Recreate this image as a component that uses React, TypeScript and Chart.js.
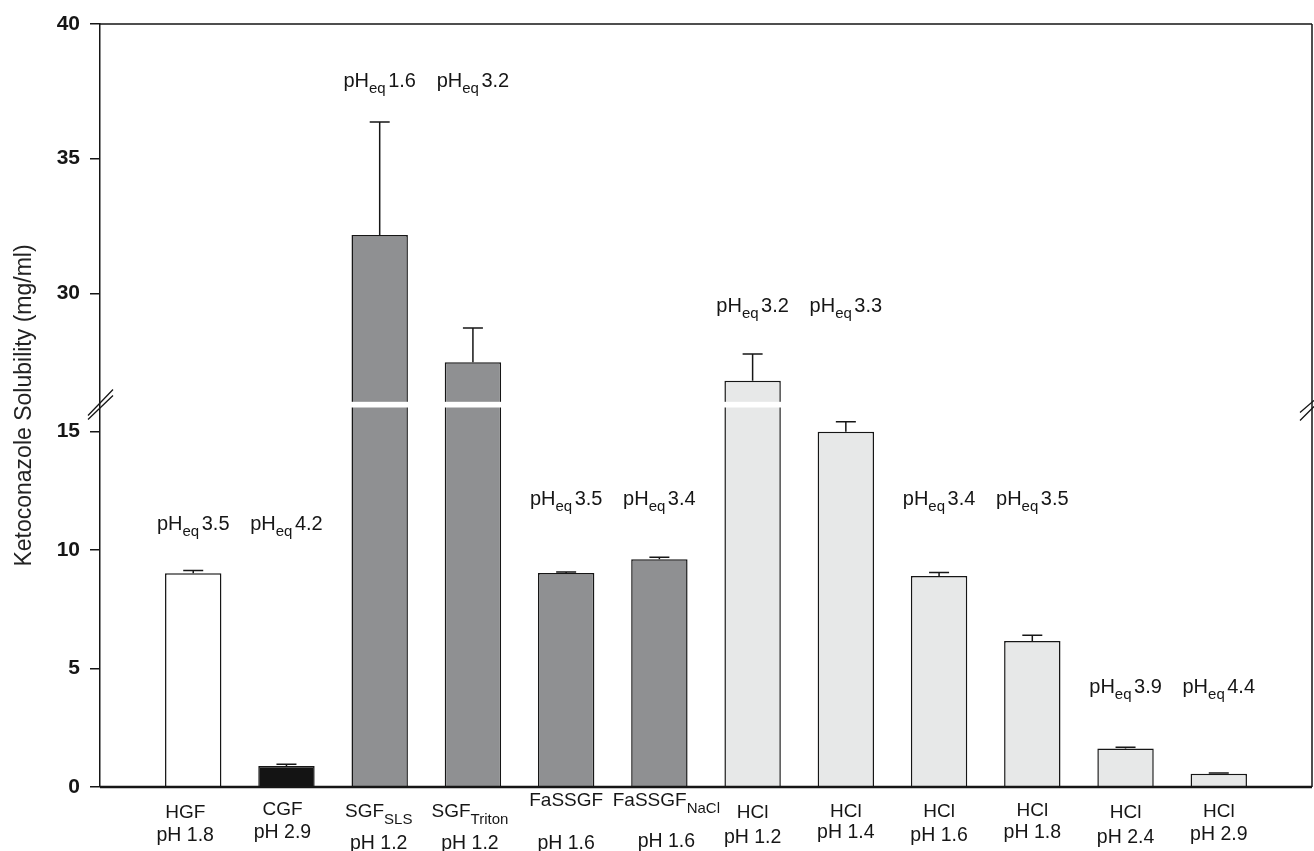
import React, { useEffect, useRef } from 'react';
import { Chart, registerables, LinearScale } from 'chart.js';

// ---------- data ----------
const categoryNames = ['HGF', 'CGF', 'SGF', 'SGF', 'FaSSGF', 'FaSSGF', 'HCl', 'HCl', 'HCl', 'HCl', 'HCl', 'HCl'];
const categorySubs = ['', '', 'SLS', 'Triton', '', 'NaCl', '', '', '', '', '', ''];
const categoryPH = ['pH 1.8', 'pH 2.9', 'pH 1.2', 'pH 1.2', 'pH 1.6', 'pH 1.6', 'pH 1.2', 'pH 1.4', 'pH 1.6', 'pH 1.8', 'pH 2.4', 'pH 2.9'];
const categoryGroup = ['HGF', 'CGF', 'SGF', 'SGF', 'SGF', 'SGF', 'HCl', 'HCl', 'HCl', 'HCl', 'HCl', 'HCl'];
const solubility = [9.02, 0.89, 32.16, 27.44, 9.03, 9.62, 26.75, 15.0, 8.91, 6.16, 1.63, 0.56];
const solubilitySD = [0.12, 0.07, 4.2, 1.27, 0.05, 0.08, 1.0, 0.42, 0.15, 0.25, 0.05, 0.03];
const pHeqValues = ['3.5', '4.2', '1.6', '3.2', '3.5', '3.4', '3.2', '3.3', '3.4', '3.5', '3.9', '4.4'];
const pHeqLabelLevel = [10.85, 10.85, 37.66, 37.66, 11.9, 11.9, 29.3, 29.3, 11.9, 11.9, 3.97, 3.97];
const yTickValues = [0, 5, 10, 15, 30, 35, 40];
const LOWER_MAX = 16;
const UPPER_MIN = 26;
const AXIS_MAX = 40;

// ---------- styles ----------
const groupColors: Record<string, string> = {
  HGF: '#ffffff',
  CGF: '#141414',
  SGF: '#8f9092',
  HCl: '#e7e8e8',
};
const FONT = '"Liberation Sans", Arial, Helvetica, sans-serif';
const INK = '#161616';
// label layout (px): baselines of both lines, and small horizontal nudges
const labelLine1 = [818, 815, 817, 817, 806, 806, 818, 817, 817, 816, 818, 817];
const labelLine2 = [841, 838, 849, 849, 849, 847, 843, 838, 841, 838, 843, 840];
const labelNudge = [-8, -4, -1, -3, 0, 7, 0, 0, 0, 0, 0, 0];

// fractions of plot height for lower segment, gap, upper segment
const F_LOW = 379 / 763;
const F_GAP = 7 / 763;
const F_UP = 1 - F_LOW - F_GAP;

function valueToDecimal(v: number) {
  if (v <= LOWER_MAX) return (v / LOWER_MAX) * F_LOW;
  if (v >= UPPER_MIN) return F_LOW + F_GAP + ((v - UPPER_MIN) / (AXIS_MAX - UPPER_MIN)) * F_UP;
  return F_LOW + F_GAP / 2;
}
function decimalToValue(d: number) {
  if (d <= F_LOW) return (d / F_LOW) * LOWER_MAX;
  if (d >= F_LOW + F_GAP) return UPPER_MIN + ((d - F_LOW - F_GAP) / F_UP) * (AXIS_MAX - UPPER_MIN);
  return (LOWER_MAX + UPPER_MIN) / 2;
}

class BrokenScale extends (LinearScale as any) {
  static id = 'broken';
  static defaults = (LinearScale as any).defaults;
  buildTicks() {
    return yTickValues.map((value) => ({ value }));
  }
  getPixelForValue(value: number) {
    return (this as any).getPixelForDecimal(valueToDecimal(value));
  }
  getValueForPixel(pixel: number) {
    return decimalToValue((this as any).getDecimalForPixel(pixel));
  }
}

Chart.register(...registerables, BrokenScale as any);

type Part = { t: string; size: number; dy: number; gap?: number };
function drawParts(ctx: CanvasRenderingContext2D, parts: Part[], cx: number, baseline: number) {
  let total = 0;
  const widths = parts.map((p) => {
    ctx.font = `${p.size}px ${FONT}`;
    const w = ctx.measureText(p.t).width + (p.gap || 0);
    total += w;
    return w;
  });
  let x = cx - total / 2;
  ctx.textAlign = 'left';
  ctx.textBaseline = 'alphabetic';
  parts.forEach((p, i) => {
    ctx.font = `${p.size}px ${FONT}`;
    x += p.gap || 0;
    ctx.fillText(p.t, x, baseline + p.dy);
    x += widths[i] - (p.gap || 0);
  });
}

const decorPlugin = {
  id: 'decor',
  afterDatasetsDraw(chart: any) {
    const { ctx, chartArea: ca, scales } = chart;
    const y = scales.y;
    const meta = chart.getDatasetMeta(0);
    const gapTop = y.getPixelForValue(UPPER_MIN);
    const gapBot = y.getPixelForValue(LOWER_MAX);
    const brk = (gapTop + gapBot) / 2;
    ctx.save();

    meta.data.forEach((bar: any, i: number) => {
      const { x: cx, y: top, width } = bar.getProps(['x', 'y', 'width'], true);
      const yErr = y.getPixelForValue(solubility[i] + solubilitySD[i]);
      ctx.strokeStyle = INK;
      ctx.lineWidth = 1.5;
      ctx.beginPath();
      ctx.moveTo(cx, top);
      ctx.lineTo(cx, yErr);
      ctx.moveTo(cx - 10, yErr);
      ctx.lineTo(cx + 10, yErr);
      ctx.stroke();
      if (solubility[i] > UPPER_MIN) {
        ctx.fillStyle = '#ffffff';
        ctx.fillRect(cx - width / 2 - 1.5, gapTop + 0.8, width + 3, gapBot - gapTop - 1.3);
      }
      // pHeq labels
      ctx.fillStyle = INK;
      drawParts(
        ctx,
        [
          { t: 'pH', size: 20, dy: 0 },
          { t: 'eq', size: 15, dy: 6 },
          { t: pHeqValues[i], size: 20, dy: 0, gap: 2.5 },
        ],
        cx,
        y.getPixelForValue(pHeqLabelLevel[i])
      );
      // category labels
      const first: Part[] = [{ t: categoryNames[i], size: 19, dy: 0 }];
      if (categorySubs[i]) first.push({ t: categorySubs[i], size: 15, dy: 7 });
      drawParts(ctx, first, cx + labelNudge[i], labelLine1[i]);
      drawParts(ctx, [{ t: categoryPH[i], size: 19.5, dy: 0 }], cx + labelNudge[i], labelLine2[i]);
    });

    // frame: top and right
    ctx.strokeStyle = INK;
    ctx.lineWidth = 1.5;
    ctx.beginPath();
    ctx.moveTo(ca.left, ca.top);
    ctx.lineTo(ca.right, ca.top);
    ctx.moveTo(ca.right, ca.top);
    ctx.lineTo(ca.right, ca.bottom);
    ctx.stroke();

    // baseline
    const y0 = y.getPixelForValue(0);
    ctx.lineWidth = 2.5;
    ctx.beginPath();
    ctx.moveTo(ca.left, y0);
    ctx.lineTo(ca.right, y0);
    ctx.stroke();

    // break marks
    ctx.lineWidth = 1.3;
    const L = ca.left;
    const R = ca.right;
    ctx.beginPath();
    ctx.moveTo(L - 12, brk + 11);
    ctx.lineTo(L + 13, brk - 15);
    ctx.moveTo(L - 12, brk + 15);
    ctx.lineTo(L + 13, brk - 9);
    ctx.moveTo(R - 12, brk + 8);
    ctx.lineTo(R + 2, brk - 4);
    ctx.moveTo(R - 12, brk + 16);
    ctx.lineTo(R + 2, brk + 2);
    ctx.stroke();

    // y-axis title
    ctx.save();
    ctx.translate(24.5, (ca.top + ca.bottom) / 2);
    ctx.rotate(-Math.PI / 2);
    ctx.font = `23px ${FONT}`;
    ctx.fillStyle = '#222';
    ctx.textAlign = 'center';
    ctx.textBaseline = 'middle';
    ctx.fillText('Ketoconazole Solubility (mg/ml)', 0, 0);
    ctx.restore();

    ctx.restore();
  },
};

export default function App() {
  const canvasRef = useRef<HTMLCanvasElement | null>(null);

  useEffect(() => {
    if (!canvasRef.current) return;
    const chart = new Chart(canvasRef.current, {
      type: 'bar',
      data: {
        datasets: [
          {
            data: solubility.map((v, i) => ({ x: i, y: v })),
            backgroundColor: categoryGroup.map((g) => groupColors[g]),
            borderColor: INK,
            borderWidth: 1.5,
            borderSkipped: 'start',
            barPercentage: 0.605,
            categoryPercentage: 1,
          } as any,
        ],
      },
      options: {
        responsive: false,
        animation: false,
        layout: { padding: { top: 24, right: 2, bottom: 64, left: 0 } },
        plugins: { legend: { display: false }, tooltip: { enabled: false } },
        scales: {
          x: { type: 'linear', min: -1, max: 12, offset: false, display: false, grid: { offset: false } } as any,
          y: {
            type: 'broken' as any,
            min: 0,
            max: AXIS_MAX,
            border: { display: true, color: INK, width: 1.5 },
            grid: { display: true, drawOnChartArea: false, drawTicks: true, tickLength: 10, color: INK, lineWidth: 1.5 },
            ticks: {
              autoSkip: false,
              color: INK,
              padding: 10,
              font: { family: FONT, size: 21, weight: 'bold' },
              callback: (v: any) => String(v),
            },
            afterFit: (s: any) => {
              s.width = 100;
            },
          } as any,
        },
      },
      plugins: [decorPlugin],
    });
    return () => chart.destroy();
  }, []);

  return (
    <div style={{ position: 'absolute', left: 0, top: 0, width: 1314, height: 851, background: '#fff' }}>
      <canvas ref={canvasRef} width={1314} height={851} style={{ display: 'block' }} />
    </div>
  );
}
